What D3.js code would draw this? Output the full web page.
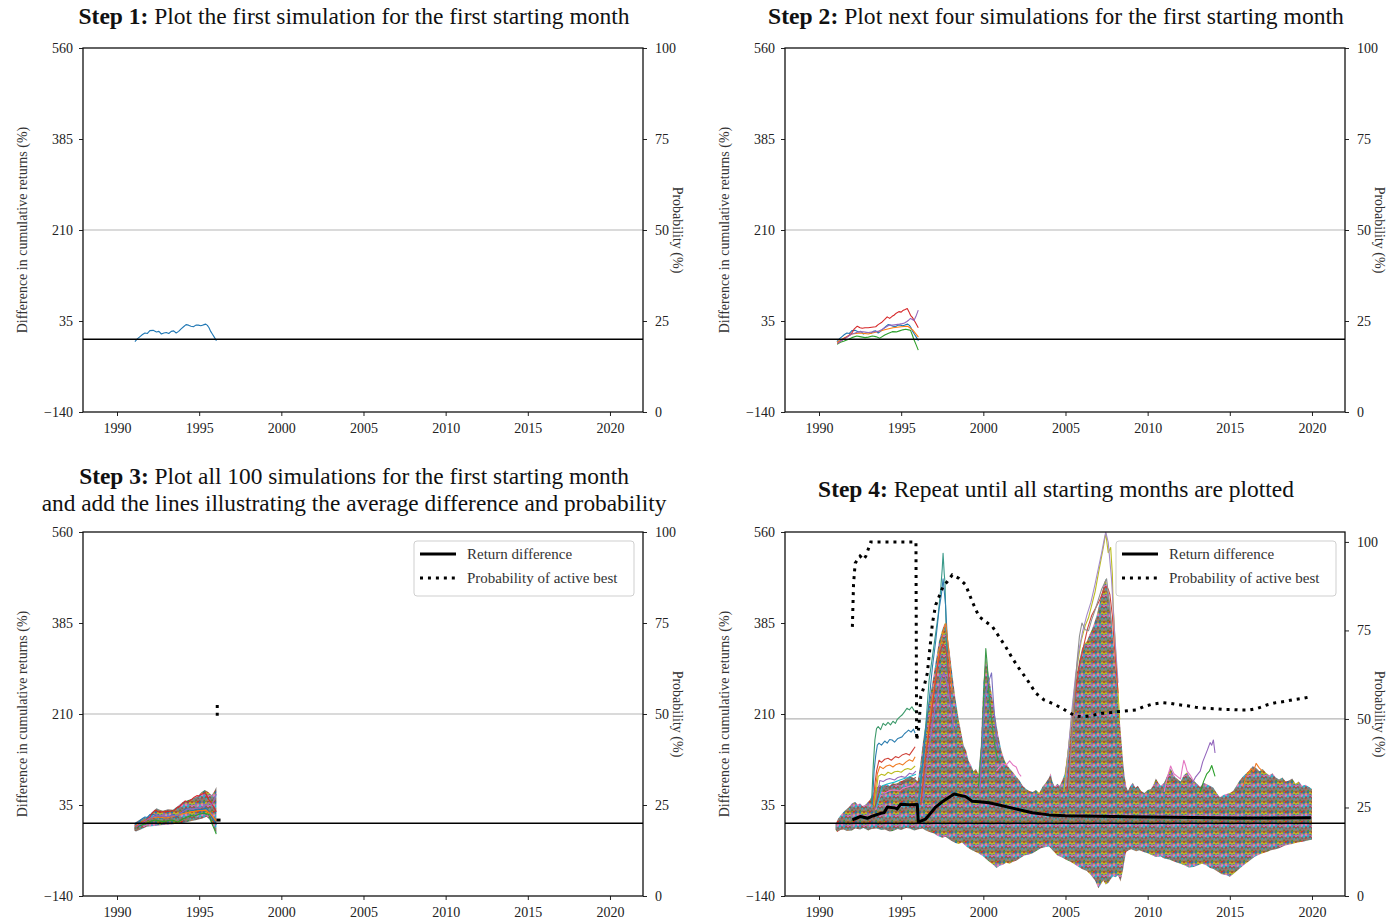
<!DOCTYPE html>
<html>
<head>
<meta charset="utf-8">
<script src="https://cdn.jsdelivr.net/npm/d3@7"></script>
<style>
  body { margin: 0; background: #fff; }
  svg { display: block; font-family: "Liberation Serif", "DejaVu Serif", serif; }
</style>
</head>
<body>
<svg id="chart" width="1393" height="923"></svg>
<script>
// ---------- axis ticks ----------
const yearTicks = [1990, 1995, 2000, 2005, 2010, 2015, 2020];
const diffTicks = [-140, 35, 210, 385, 560];
const probTicks = [0, 25, 50, 75, 100];
const yearDomain = [1987.93, 2022.01];
const diffDomain = [-140, 560];

// ---------- first five simulations of the first starting month ([year, difference %]) ----------
const simBlue = [[1991.09,-4.5],[1991.25,1],[1991.4,5],[1991.55,9],[1991.7,12],[1991.85,11],[1992.0,16.5],[1992.2,17],[1992.4,14],[1992.55,15],[1992.7,10],[1992.85,12],[1993.0,13],[1993.15,11],[1993.3,15],[1993.45,16],[1993.6,12],[1993.75,15],[1993.9,20],[1994.05,24],[1994.2,28],[1994.35,27],[1994.5,25],[1994.65,24],[1994.8,27],[1994.95,27],[1995.1,26],[1995.2,27],[1995.3,28],[1995.4,29],[1995.5,26.5],[1995.6,22],[1995.7,15],[1995.8,10],[1995.9,5],[1996.05,-3]];
const simOrange = [[1991.1,-6],[1991.5,2],[1992.0,10],[1992.5,12],[1993.0,10],[1993.5,14],[1994.0,18],[1994.5,22],[1995.0,24],[1995.4,25],[1995.7,18],[1996.05,4]];
const simGreen = [[1991.1,-10],[1991.3,-6],[1991.5,-4],[1991.8,0],[1992.0,3],[1992.3,6],[1992.5,5],[1992.8,3],[1993.0,4],[1993.25,6],[1993.45,5],[1993.7,2],[1994.0,8],[1994.2,11],[1994.46,14.5],[1994.7,14],[1994.9,16],[1995.1,18],[1995.27,19],[1995.45,18],[1995.57,17],[1995.68,8],[1995.78,-1],[1995.9,-10],[1996.04,-21]];
const simRed = [[1991.11,-8],[1991.25,-5],[1991.4,-2],[1991.55,2],[1991.72,4.8],[1991.85,8],[1992.0,12],[1992.15,20],[1992.33,25],[1992.5,22],[1992.63,21],[1992.8,22],[1993.0,22],[1993.2,23],[1993.45,24],[1993.6,28],[1993.8,32],[1994.0,38],[1994.15,43],[1994.3,40],[1994.45,44],[1994.56,46],[1994.7,50],[1994.86,53],[1995.0,52],[1995.1,55],[1995.25,57],[1995.37,59],[1995.47,53],[1995.57,46],[1995.68,42],[1995.78,37],[1995.9,30],[1996.04,22]];
const simPurple = [[1991.15,-8],[1991.3,-4],[1991.5,0],[1991.75,5],[1992.0,10],[1992.2,12],[1992.4,14.5],[1992.7,14],[1993.0,13],[1993.3,14],[1993.6,15],[1993.8,18],[1994.0,22],[1994.26,27],[1994.5,27],[1994.7,28],[1994.9,29],[1995.07,30],[1995.2,31],[1995.35,34],[1995.47,37],[1995.57,40],[1995.68,38],[1995.78,36],[1995.9,44],[1996.04,56]];

// ---------- spread of all 100 simulations, first starting month ----------
const step3Upper = [[1991.05,0],[1991.25,4],[1991.45,8],[1991.8,11],[1992.1,20],[1992.4,28.6],[1992.6,26],[1992.8,24],[1993.1,27],[1993.4,26],[1993.7,33],[1994.0,41],[1994.3,44],[1994.64,48],[1994.9,52],[1995.15,60],[1995.35,64],[1995.55,60],[1995.76,54],[1995.9,60],[1996.05,70]];
const step3Lower = [[1991.05,-14],[1991.15,-16],[1991.45,-12],[1991.8,-7],[1992.1,-6],[1992.4,-5],[1992.8,-3.5],[1993.1,-3],[1993.4,-2],[1993.83,-0.3],[1994.2,2],[1994.84,6],[1995.2,9],[1995.45,12.6],[1995.6,8],[1995.76,-0.3],[1995.9,-10],[1996.05,-19.5]];
const step3Return = [[1996.05,6],[1996.3,6]];
const step3Prob = [[1996.1,52.5],[1996.1,48.5]];

// ---------- spread of all simulations, every starting month ----------
const allUpper = [[1991.0,-2],[1991.15,8],[1991.3,15],[1991.45,20],[1991.6,25],[1991.8,30],[1992.0,38],[1992.2,41],[1992.35,36],[1992.5,38],[1992.65,33],[1992.8,35],[1992.95,40],[1993.1,45],[1993.3,58],[1993.5,68],[1993.7,74],[1993.9,70],[1994.1,76],[1994.3,72],[1994.5,78],[1994.7,74],[1994.9,80],[1995.1,82],[1995.3,86],[1995.5,90],[1995.7,88],[1995.85,85],[1996.0,80],[1996.15,110],[1996.3,150],[1996.5,195],[1996.7,235],[1996.9,270],[1997.1,310],[1997.3,350],[1997.5,372],[1997.65,385],[1997.8,365],[1997.95,330],[1998.1,290],[1998.3,240],[1998.5,200],[1998.65,175],[1998.8,150],[1998.95,140],[1999.1,120],[1999.25,112],[1999.4,100],[1999.55,104],[1999.7,95],[1999.85,150],[2000.0,270],[2000.15,320],[2000.3,290],[2000.5,250],[2000.7,210],[2000.9,170],[2001.1,140],[2001.3,120],[2001.45,112],[2001.6,105],[2001.8,98],[2002.0,90],[2002.2,82],[2002.4,72],[2002.6,66],[2002.8,62],[2003.0,60],[2003.2,64],[2003.4,58],[2003.6,70],[2003.8,78],[2004.0,88],[2004.1,96],[2004.2,80],[2004.35,70],[2004.5,76],[2004.65,72],[2004.8,82],[2004.95,95],[2005.1,130],[2005.25,170],[2005.4,215],[2005.55,255],[2005.7,290],[2005.85,315],[2006.0,335],[2006.15,345],[2006.3,350],[2006.45,362],[2006.6,372],[2006.75,385],[2006.9,400],[2007.05,420],[2007.2,440],[2007.35,462],[2007.45,470],[2007.55,450],[2007.7,425],[2007.8,390],[2007.95,335],[2008.1,280],[2008.2,240],[2008.3,200],[2008.4,160],[2008.5,120],[2008.6,90],[2008.7,70],[2008.8,62],[2008.95,72],[2009.1,78],[2009.25,68],[2009.4,72],[2009.6,62],[2009.8,58],[2010.0,64],[2010.2,66],[2010.35,74],[2010.5,86],[2010.65,78],[2010.8,72],[2011.0,78],[2011.2,92],[2011.4,105],[2011.55,95],[2011.7,88],[2011.85,84],[2012.0,80],[2012.2,92],[2012.4,98],[2012.6,88],[2012.8,82],[2013.0,76],[2013.2,70],[2013.4,78],[2013.6,75],[2013.8,72],[2014.0,68],[2014.2,58],[2014.4,50],[2014.6,54],[2014.8,56],[2015.0,58],[2015.2,62],[2015.4,72],[2015.6,82],[2015.8,90],[2016.0,96],[2016.2,102],[2016.4,110],[2016.6,106],[2016.8,100],[2017.0,104],[2017.2,97],[2017.4,92],[2017.6,96],[2017.8,88],[2018.0,84],[2018.2,88],[2018.4,80],[2018.6,82],[2018.8,86],[2019.0,76],[2019.2,80],[2019.4,72],[2019.6,74],[2019.8,70],[2020.0,66]];
const allLower = [[1991.0,-12],[1991.1,-17],[1991.3,-13],[1991.5,-12],[1991.7,-15],[1992.0,-14],[1992.2,-10],[1992.5,-12],[1992.7,-9],[1993.0,-14],[1993.2,-11],[1993.5,-10],[1993.8,-13],[1994.0,-12],[1994.3,-16],[1994.5,-15],[1994.8,-11],[1995.0,-13],[1995.3,-9],[1995.5,-10],[1995.8,-14],[1996.0,-12],[1996.3,-10],[1996.5,-14],[1996.8,-18],[1997.0,-20],[1997.2,-24],[1997.5,-28],[1997.7,-26],[1998.0,-33],[1998.3,-38],[1998.5,-40],[1998.7,-37],[1999.0,-46],[1999.2,-50],[1999.5,-55],[1999.7,-58],[2000.0,-64],[2000.2,-70],[2000.4,-75],[2000.6,-80],[2000.8,-86],[2001.0,-82],[2001.2,-80],[2001.4,-76],[2001.6,-78],[2001.8,-74],[2002.0,-72],[2002.3,-66],[2002.5,-62],[2002.8,-60],[2003.0,-58],[2003.3,-52],[2003.5,-48],[2003.8,-46],[2004.0,-45],[2004.3,-55],[2004.5,-62],[2004.8,-66],[2005.0,-70],[2005.3,-74],[2005.5,-78],[2005.8,-84],[2006.0,-88],[2006.3,-92],[2006.5,-98],[2006.8,-110],[2007.0,-125],[2007.15,-118],[2007.3,-110],[2007.45,-118],[2007.6,-115],[2007.75,-108],[2007.9,-102],[2008.05,-104],[2008.2,-100],[2008.35,-112],[2008.5,-90],[2008.6,-70],[2008.7,-55],[2008.85,-52],[2009.0,-50],[2009.3,-54],[2009.5,-52],[2009.8,-56],[2010.0,-58],[2010.3,-62],[2010.5,-65],[2010.8,-64],[2011.0,-68],[2011.3,-70],[2011.5,-72],[2011.8,-76],[2012.0,-78],[2012.3,-82],[2012.5,-85],[2012.8,-84],[2013.0,-82],[2013.3,-78],[2013.5,-80],[2013.8,-86],[2014.0,-88],[2014.3,-94],[2014.5,-98],[2014.8,-100],[2015.0,-103],[2015.2,-98],[2015.5,-90],[2015.8,-82],[2016.0,-77],[2016.3,-70],[2016.5,-65],[2016.8,-60],[2017.0,-58],[2017.3,-55],[2017.5,-52],[2017.8,-50],[2018.0,-48],[2018.3,-44],[2018.5,-42],[2018.8,-40],[2019.0,-38],[2019.3,-36],[2019.5,-35],[2019.8,-33],[2020.0,-32]];

// individual paths standing out of the spread
const outlierPaths = [
  {color:'#3d9a6b', pts:[[1993.2,40],[1993.3,110],[1993.4,160],[1993.5,182],[1993.6,186],[1993.75,180],[1993.9,192],[1994.05,188],[1994.2,194],[1994.35,189],[1994.5,196],[1994.65,192],[1994.75,199],[1994.9,204],[1995.05,208],[1995.2,214],[1995.35,221],[1995.5,218],[1995.65,224],[1995.8,216],[1995.9,214]]},
  {color:'#2f7fb0', pts:[[1993.25,35],[1993.35,100],[1993.45,130],[1993.55,150],[1993.65,154],[1993.8,150],[1994.0,158],[1994.15,154],[1994.3,161],[1994.45,160],[1994.6,156],[1994.8,163],[1995.05,166],[1995.2,172],[1995.35,176],[1995.45,179],[1995.6,175],[1995.75,181],[1995.85,173]]},
  {color:'#d0453c', pts:[[1993.3,30],[1993.4,75],[1993.5,100],[1993.65,121],[1993.8,117],[1994.0,123],[1994.2,125],[1994.4,121],[1994.65,128],[1994.85,126],[1995.05,131],[1995.3,134],[1995.5,131],[1995.7,140],[1995.85,147]]},
  {color:'#f07c25', pts:[[1993.3,35],[1993.45,70],[1993.55,95],[1993.7,109],[1993.9,105],[1994.1,110],[1994.3,112],[1994.5,108],[1994.7,113],[1994.9,115],[1995.1,112],[1995.3,118],[1995.5,122],[1995.7,119],[1995.85,128]]},
  {color:'#bcbd22', pts:[[1993.35,30],[1993.6,90],[1993.8,94],[1994.0,92],[1994.2,98],[1994.4,95],[1994.6,99],[1994.8,100],[1995.0,98],[1995.2,103],[1995.4,105],[1995.6,103],[1995.85,110]]},
  {color:'#9467bd', pts:[[1993.4,28],[1993.7,82],[1993.9,80],[1994.1,84],[1994.3,86],[1994.6,83],[1994.8,88],[1995.0,90],[1995.25,88],[1995.5,96],[1995.7,94],[1995.9,100]]},
  {color:'#8c564b', pts:[[1993.4,30],[1993.75,70],[1994.0,72],[1994.25,69],[1994.5,74],[1994.8,76],[1995.0,74],[1995.2,80],[1995.5,82],[1995.9,88]]},
  {color:'#e377c2', pts:[[1993.45,25],[1993.8,60],[1994.0,58],[1994.3,63],[1994.6,64],[1994.9,62],[1995.1,67],[1995.4,70],[1995.65,72],[1995.9,78]]},
  {color:'#17becf', pts:[[1993.5,30],[1993.85,72],[1994.2,76],[1994.6,79],[1995.0,84],[1995.4,88],[1995.9,94]]},
  {color:'#3a9a8a', pts:[[1996.0,30],[1996.2,90],[1996.4,150],[1996.55,210],[1996.7,275],[1996.9,320],[1997.1,365],[1997.25,400],[1997.4,448],[1997.5,490],[1997.55,519],[1997.62,480],[1997.67,462],[1997.75,352],[1997.8,290]]},
  {color:'#2f7fb0', pts:[[1996.05,28],[1996.3,110],[1996.5,180],[1996.7,235],[1996.9,300],[1997.1,350],[1997.3,410],[1997.45,440],[1997.55,470],[1997.7,420],[1997.85,330]]},
  {color:'#f07c25', pts:[[1996.2,40],[1996.45,120],[1996.7,190],[1996.9,240],[1997.1,280],[1997.3,330],[1997.5,360],[1997.6,375],[1997.72,384],[1997.8,360],[1997.9,330],[1998.1,250]]},
  {color:'#9467bd', pts:[[1996.3,40],[1996.55,110],[1996.8,170],[1997.05,220],[1997.3,260],[1997.45,280],[1997.6,290],[1997.75,275],[1997.9,250],[1998.2,180]]},
  {color:'#d0453c', pts:[[1996.2,35],[1996.5,130],[1996.8,200],[1997.0,250],[1997.2,300],[1997.4,330],[1997.55,345],[1997.7,335],[1997.8,320],[1998.0,240]]},
  {color:'#3d9a4b', pts:[[1999.7,70],[1999.8,110],[1999.9,150],[1999.98,210],[2000.05,260],[2000.1,300],[2000.15,336],[2000.2,318],[2000.25,300],[2000.32,260],[2000.4,230],[2000.5,200],[2000.6,170],[2000.75,140],[2000.9,120]]},
  {color:'#7b6fc0', pts:[[1999.8,60],[1999.9,130],[2000.0,200],[2000.1,235],[2000.2,260],[2000.35,275],[2000.5,289],[2000.6,240],[2000.7,200],[2000.9,140]]},
  {color:'#e377c2', pts:[[2000.8,100],[2001.0,108],[2001.2,115],[2001.4,112],[2001.6,120],[2001.8,112],[2002.0,108],[2002.15,96],[2002.3,90]]},
  {color:'#bcbd22', pts:[[2004.9,60],[2005.1,120],[2005.3,180],[2005.5,245],[2005.7,300],[2005.95,350],[2006.2,380],[2006.4,395],[2006.6,420],[2006.8,445],[2007.0,480],[2007.15,505],[2007.3,530],[2007.45,558],[2007.52,540],[2007.6,520],[2007.75,530],[2007.85,480],[2007.9,420],[2008.0,360],[2008.1,300],[2008.3,200]]},
  {color:'#a58cc8', pts:[[2005.0,70],[2005.2,150],[2005.4,220],[2005.6,280],[2005.8,330],[2006.05,370],[2006.3,400],[2006.55,425],[2006.8,460],[2007.0,490],[2007.2,520],[2007.35,545],[2007.45,560],[2007.6,540],[2007.7,505],[2007.8,470],[2008.0,360],[2008.2,270]]},
  {color:'#d0453c', pts:[[2005.1,60],[2005.35,160],[2005.6,250],[2005.85,305],[2006.1,340],[2006.35,375],[2006.6,400],[2006.85,415],[2007.1,430],[2007.3,448],[2007.45,455],[2007.6,450],[2007.7,440],[2007.85,400],[2007.95,350],[2008.2,250]]},
  {color:'#8f8f8f', pts:[[2005.2,70],[2005.45,200],[2005.7,310],[2005.85,360],[2006.0,385],[2006.2,372],[2006.4,370],[2006.6,392],[2006.8,410],[2007.0,430],[2007.2,450],[2007.5,470],[2007.65,430],[2007.8,380]]},
  {color:'#e377c2', pts:[[2011.0,60],[2011.2,88],[2011.4,110],[2011.5,102],[2011.6,95],[2011.8,90],[2012.0,85],[2012.1,104],[2012.2,121],[2012.3,112],[2012.4,100],[2012.6,92],[2012.8,80]]},
  {color:'#9467bd', pts:[[2012.6,70],[2012.9,88],[2013.2,100],[2013.35,118],[2013.5,130],[2013.65,142],[2013.8,155],[2013.9,150],[2014.0,160],[2014.1,135]]},
  {color:'#2ca02c', pts:[[2013.2,60],[2013.4,80],[2013.6,95],[2013.75,100],[2013.9,111],[2014.1,90]]},
  {color:'#f07c25', pts:[[2015.8,70],[2016.0,90],[2016.3,105],[2016.45,100],[2016.6,115],[2016.8,106],[2017.0,100]]}
];

// average return difference across simulations, by starting month
const returnDifference = [[1992.03,6.5],[1992.3,10],[1992.53,13],[1992.94,9.4],[1993.2,13],[1993.45,15.8],[1993.75,19],[1993.96,20.3],[1994.16,31],[1994.67,29],[1994.75,27],[1994.97,36.5],[1995.48,35.5],[1995.98,36],[1996.04,2],[1996.49,8],[1996.9,23.5],[1997.1,31],[1997.5,41.3],[1998.22,56.2],[1998.93,51.1],[1999.33,42],[1999.74,41.3],[2000.35,39.4],[2000.96,35],[2001.97,27.5],[2002.98,20],[2004.0,16],[2005.0,14.5],[2007.0,13.5],[2009.0,12.5],[2011.5,11.3],[2015.56,9.8],[2019.93,10.5]];
// probability that the active strategy ends best (%)
const probActiveBest = [[1992.03,76],[1992.1,88],[1992.2,94],[1992.5,96],[1992.7,95],[1992.85,96],[1993.0,98],[1993.15,100],[1995.9,100],[1995.94,44],[1996.08,47.8],[1996.19,56.3],[1996.39,59.1],[1996.59,62.9],[1996.8,72.3],[1996.9,77],[1997.1,82.2],[1997.3,84.5],[1997.55,87.4],[1997.81,88.8],[1998.11,90.7],[1998.52,89.7],[1998.92,87.9],[1999.33,83.1],[1999.74,78.9],[2000.14,77.5],[2000.55,76.1],[2000.96,73.2],[2001.36,70.4],[2001.77,67.1],[2002.17,64.3],[2002.68,61.0],[2003.19,57.3],[2003.69,55.4],[2004.2,54.4],[2004.81,53.0],[2005.11,52.1],[2005.62,50.8],[2006.13,50.6],[2006.74,51.1],[2007.24,51.6],[2007.75,51.8],[2008.26,52.1],[2008.77,52.3],[2009.28,52.5],[2009.78,53.5],[2010.29,54.2],[2010.9,54.6],[2011.41,54.4],[2011.91,54.0],[2012.42,53.7],[2012.93,53.3],[2013.54,53.0],[2014.04,52.9],[2014.55,52.7],[2015.06,52.7],[2015.67,52.5],[2016.17,52.5],[2016.68,53.0],[2017.29,54.0],[2017.8,54.6],[2018.3,54.9],[2018.81,55.4],[2019.42,55.8],[2019.93,56.3]];

const legendLabels = ['Return difference', 'Probability of active best'];

// ---------- drawing ----------
const svg = d3.select('#chart');
const defs = svg.append('defs');
const palette = ['#1f77b4','#ff7f0e','#2ca02c','#d62728','#9467bd','#8c564b','#e377c2','#7f7f7f','#bcbd22','#17becf'];

// dense tangle of thin simulation paths, used to fill the spread
const TW = 16, TH = 10;
const texture = defs.append('pattern').attr('id', 'simTexture')
  .attr('patternUnits', 'userSpaceOnUse').attr('width', TW).attr('height', TH);
texture.append('rect').attr('width', TW).attr('height', TH).attr('fill', '#c07a5a');
const stripeOrder = [1, 2, 3, 0, 8, 4, 6, 9, 5, 7];
const wiggles = [
  [-2.0, 1.6, -0.6, 2.2, -1.5, 1.0, -2.1],
  [1.5, -2.0, 0.8, -1.0, 2.1, -1.4, 1.1],
  [-1.0, 2.1, -1.7, 0.5, -2.2, 1.7, -0.5],
  [2.0, -0.8, 1.6, -2.1, 0.6, -1.6, 1.8]
];
stripeOrder.forEach((c, i) => {
  const w = wiggles[i % 4];
  [-TH, 0, TH].forEach(off => {
    const y0 = i + 0.5 + off;
    const pts = [[0, y0]].concat(w.map((v, k) => [(k + 1) * 2, y0 + v]), [[TW, y0]]);
    texture.append('path').attr('d', d3.line()(pts)).attr('fill', 'none')
      .attr('stroke', palette[c]).attr('stroke-width', 1.3);
  });
});

const fmtMinus = d => d < 0 ? '\u2212' + Math.abs(d) : String(d);
let clipN = 0;

function buildPanel(box, probMax) {
  const g = svg.append('g');
  const x = d3.scaleLinear().domain(yearDomain).range([box.x0, box.x1]);
  const y = d3.scaleLinear().domain(diffDomain).range([box.y1, box.y0]);
  const yp = d3.scaleLinear().domain([0, probMax]).range([box.y1, box.y0]);
  const id = 'clip' + (clipN++);
  defs.append('clipPath').attr('id', id).append('rect')
    .attr('x', box.x0).attr('y', box.y0).attr('width', box.x1 - box.x0).attr('height', box.y1 - box.y0);
  const plot = g.append('g').attr('clip-path', `url(#${id})`);

  const ax = g.append('g').attr('transform', `translate(0,${box.y1})`)
    .call(d3.axisBottom(x).tickValues(yearTicks).tickFormat(d3.format('d')).tickSize(4).tickPadding(7).tickSizeOuter(0));
  const ay = g.append('g').attr('transform', `translate(${box.x0},0)`)
    .call(d3.axisLeft(y).tickValues(diffTicks).tickFormat(fmtMinus).tickSize(4).tickPadding(6).tickSizeOuter(0));
  const ar = g.append('g').attr('transform', `translate(${box.x1},0)`)
    .call(d3.axisRight(yp).tickValues(probTicks).tickSize(4).tickPadding(8).tickSizeOuter(0));
  [ax, ay, ar].forEach(a => {
    a.select('.domain').remove();
    a.attr('font-family', null).attr('font-size', null);
    a.selectAll('text').attr('font-size', 14).attr('fill', '#222');
    a.selectAll('line').attr('stroke', '#222').attr('stroke-width', 1);
  });
  g.append('rect').attr('x', box.x0).attr('y', box.y0)
    .attr('width', box.x1 - box.x0).attr('height', box.y1 - box.y0)
    .attr('fill', 'none').attr('stroke', '#111').attr('stroke-width', 1.3);

  const midY = (box.y0 + box.y1) / 2;
  g.append('text').attr('transform', `translate(${box.x0 - 56},${midY}) rotate(-90)`)
    .attr('text-anchor', 'middle').attr('font-size', 14).attr('fill', '#333')
    .text('Difference in cumulative returns (%)');
  g.append('text').attr('transform', `translate(${box.x1 + 30},${midY}) rotate(90)`)
    .attr('text-anchor', 'middle').attr('font-size', 14).attr('fill', '#333')
    .text('Probability (%)');

  // reference line at 50 % probability
  plot.append('line').attr('x1', box.x0).attr('x2', box.x1)
    .attr('y1', yp(50)).attr('y2', yp(50)).attr('stroke', '#b5b5b5').attr('stroke-width', 1.2);
  return { g, plot, x, y, yp, box, id };
}

// zero-difference line, drawn above the simulations; returns a layer for the summary lines
function zeroLine(p) {
  const grp = p.g.append('g').attr('clip-path', `url(#${p.id})`);
  grp.append('line').attr('x1', p.box.x0).attr('x2', p.box.x1)
    .attr('y1', p.y(0)).attr('y2', p.y(0)).attr('stroke', '#000').attr('stroke-width', 1.5);
  return grp;
}

function simLine(p, pts, color, width) {
  const line = d3.line().x(d => p.x(d[0])).y(d => p.y(d[1]));
  p.plot.append('path').attr('d', line(pts)).attr('fill', 'none')
    .attr('stroke', color).attr('stroke-width', width || 1.1).attr('stroke-linejoin', 'round');
}

function spread(p, upper, lower) {
  const line = d3.line().x(d => p.x(d[0])).y(d => p.y(d[1]));
  const ring = upper.concat(lower.slice().reverse());
  p.plot.append('path').attr('d', line(ring) + 'Z').attr('fill', 'url(#simTexture)');
}

function summaryLines(p, grp, ret, prob) {
  const lr = d3.line().x(d => p.x(d[0])).y(d => p.y(d[1]));
  const lp = d3.line().x(d => p.x(d[0])).y(d => p.yp(d[1]));
  grp.append('path').attr('d', lr(ret)).attr('fill', 'none').attr('stroke', '#000')
    .attr('stroke-width', 3).attr('stroke-linejoin', 'round');
  grp.append('path').attr('d', lp(prob)).attr('fill', 'none').attr('stroke', '#000')
    .attr('stroke-width', 3).attr('stroke-dasharray', '3 4.95');
}

function legend(x0, y0) {
  const g = svg.append('g').attr('transform', `translate(${x0},${y0})`);
  g.append('rect').attr('width', 220).attr('height', 55).attr('rx', 3)
    .attr('fill', 'rgba(255,255,255,0.85)').attr('stroke', '#cfcfcf').attr('stroke-width', 1);
  g.append('line').attr('x1', 6).attr('x2', 42).attr('y1', 13).attr('y2', 13)
    .attr('stroke', '#000').attr('stroke-width', 3);
  g.append('line').attr('x1', 6).attr('x2', 42).attr('y1', 37).attr('y2', 37)
    .attr('stroke', '#000').attr('stroke-width', 3).attr('stroke-dasharray', '3 4.95');
  legendLabels.forEach((t, i) => {
    g.append('text').attr('x', 53).attr('y', 13 + i * 24).attr('dy', '0.33em')
      .attr('font-size', 15).attr('fill', '#333').text(t);
  });
}

function title(cx, baseline, bold, rest, width) {
  const t = svg.append('text').attr('x', cx).attr('y', baseline)
    .attr('text-anchor', 'middle').attr('font-size', 22).attr('fill', '#111');
  t.append('tspan').attr('font-weight', 'bold').text(bold);
  t.append('tspan').text(rest);
  const len = t.node().getComputedTextLength();
  t.attr('font-size', (22 * width / len).toFixed(2));
}
function plainTitle(cx, baseline, text, width) {
  const t = svg.append('text').attr('x', cx).attr('y', baseline)
    .attr('text-anchor', 'middle').attr('font-size', 22).attr('fill', '#111').text(text);
  const len = t.node().getComputedTextLength();
  t.attr('font-size', (22 * width / len).toFixed(2));
}

// Step 1
const p1 = buildPanel({ x0: 83, x1: 643, y0: 48, y1: 412 }, 100);
zeroLine(p1);
simLine(p1, simBlue, palette[0]);
title(354, 24, 'Step 1:', ' Plot the first simulation for the first starting month', 551);

// Step 2
const p2 = buildPanel({ x0: 785, x1: 1345, y0: 48, y1: 412 }, 100);
zeroLine(p2);
[[simBlue, 0], [simOrange, 1], [simGreen, 2], [simRed, 3], [simPurple, 4]]
  .forEach(([s, c]) => simLine(p2, s, palette[c]));
title(1056, 24, 'Step 2:', ' Plot next four simulations for the first starting month', 576);

// Step 3
const p3 = buildPanel({ x0: 83, x1: 643, y0: 532, y1: 896 }, 100);
spread(p3, step3Upper, step3Lower);
[[simBlue, 0], [simOrange, 1], [simGreen, 2], [simRed, 3], [simPurple, 4]]
  .forEach(([s, c]) => simLine(p3, s, palette[c]));
summaryLines(p3, zeroLine(p3), step3Return, step3Prob);
legend(414, 541);
title(354, 484, 'Step 3:', ' Plot all 100 simulations for the first starting month', 550);
plainTitle(354, 511, 'and add the lines illustrating the average difference and probability', 625);

// Step 4
const p4 = buildPanel({ x0: 785, x1: 1345, y0: 532, y1: 896 }, 102.8);
spread(p4, allUpper, allLower);
outlierPaths.forEach(o => simLine(p4, o.pts, o.color));
summaryLines(p4, zeroLine(p4), returnDifference, probActiveBest);
legend(1116, 541);
title(1056, 497, 'Step 4:', ' Repeat until all starting months are plotted', 476);
</script>
</body>
</html>
